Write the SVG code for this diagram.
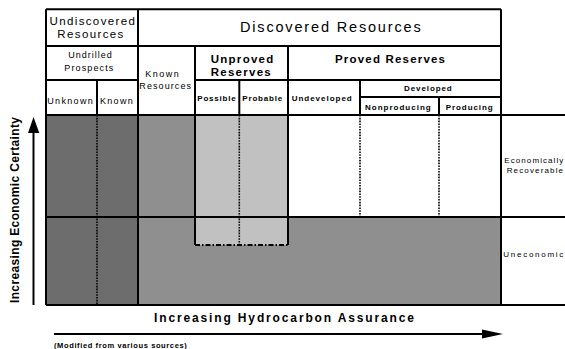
<svg xmlns="http://www.w3.org/2000/svg" width="565" height="349" viewBox="0 0 565 349">
<style>
.ln{stroke:#000;stroke-width:2;fill:none}
.dot{stroke:#000;stroke-width:1.6;fill:none;stroke-dasharray:1.6 1.2}
.dd{stroke:#000;stroke-width:1.8;fill:none;stroke-dasharray:5 2 1.5 2}
text{font-family:"Liberation Sans",Arial,sans-serif;fill:#000}
.t{font-size:9px}
.b{font-weight:bold}
.dark{fill:#6d6d6d}
.mid{fill:#8f8f8f}
.light{fill:#c1c1c1}
</style>
<rect x="0" y="0" width="565" height="349" fill="#fff"/>
<g id="fills">
<rect class="dark" x="46" y="115" width="92" height="190"/>
<rect class="mid" x="138" y="115" width="57" height="190"/>
<rect class="mid" x="195" y="217" width="306" height="88"/>
<rect class="light" x="195" y="115" width="93" height="130"/>
</g>
<g id="undiscovered">
<text x="92.2" y="25" font-size="11.5" text-anchor="middle" textLength="85.5" lengthAdjust="spacing">Undiscovered</text>
<text x="90.3" y="38.3" font-size="11.5" text-anchor="middle" textLength="66" lengthAdjust="spacing">Resources</text>
</g>
<g id="discovered">
<text x="330.3" y="31.7" font-size="14.5" text-anchor="middle" textLength="180.7" lengthAdjust="spacing">Discovered Resources</text>
</g>
<g id="undrilled">
<text class="t" x="90" y="58.3" text-anchor="middle" textLength="43.4" lengthAdjust="spacing">Undrilled</text>
<text class="t" x="88.8" y="70.7" text-anchor="middle" textLength="49" lengthAdjust="spacing">Prospects</text>
</g>
<g id="unknown"><text class="t" x="47.3" y="104" textLength="45.4" lengthAdjust="spacing">Unknown</text></g>
<g id="known"><text class="t" x="100" y="104" textLength="32.7" lengthAdjust="spacing">Known</text></g>
<g id="known-resources">
<text class="t" x="145.3" y="77.3" textLength="33.4" lengthAdjust="spacing">Known</text>
<text class="t" x="139.3" y="89" textLength="51.7" lengthAdjust="spacing">Resources</text>
</g>
<g id="unproved">
<text class="b" x="210.7" y="62.7" font-size="11.5" textLength="62.6" lengthAdjust="spacing">Unproved</text>
<text class="b" x="210.7" y="76" font-size="11.5" textLength="60" lengthAdjust="spacing">Reserves</text>
</g>
<g id="proved"><text class="b" x="335" y="63.3" font-size="11.5" textLength="110" lengthAdjust="spacing">Proved Reserves</text></g>
<g id="possible"><text class="b" x="197.3" y="101" font-size="8" textLength="38.4" lengthAdjust="spacing">Possible</text></g>
<g id="probable"><text class="b" x="242.3" y="101" font-size="8" textLength="40" lengthAdjust="spacing">Probable</text></g>
<g id="undeveloped"><text class="b" x="291.7" y="100.5" font-size="8" textLength="60" lengthAdjust="spacing">Undeveloped</text></g>
<g id="developed"><text class="b" x="404" y="90.7" font-size="8" textLength="47.7" lengthAdjust="spacing">Developed</text></g>
<g id="nonproducing"><text class="b" x="365" y="110" font-size="8" textLength="65.7" lengthAdjust="spacing">Nonproducing</text></g>
<g id="producing"><text class="b" x="445.7" y="110" font-size="8" textLength="47" lengthAdjust="spacing">Producing</text></g>
<g id="econ-recoverable">
<text x="504.3" y="163.3" font-size="8" textLength="59" lengthAdjust="spacing">Economically</text>
<text x="506.7" y="173.3" font-size="8" textLength="56.3" lengthAdjust="spacing">Recoverable</text>
</g>
<g id="uneconomic"><text x="503.3" y="256.7" font-size="8" textLength="60" lengthAdjust="spacing">Uneconomic</text></g>
<g id="connectors">
<path class="ln" d="M46 9.3H501M46 46H501M46 80H138M195 80H501M360 97H501M46 115H565M46 217H565M46 305H565"/>
<path class="ln" d="M46 9.3V305M138 9.3V305M501 9.3V305M195 46V245M288 46V245M97 80V115M239.3 80V115M360 80V115M439 97V115"/>
<path class="dot" d="M97 115V305M239.3 115V245M360 115V217M439 115V217"/>
<path class="dd" d="M195 245H288"/>
<path class="ln" d="M33.5 305V131"/>
<polygon points="28,133 39.3,133 33.5,117"/>
<path class="ln" d="M54 334H484"/>
<polygon points="482,329.5 482,338.5 503,334"/>
</g>
<g id="axis-labels">
<text class="b" x="154" y="321.7" font-size="12" textLength="260" lengthAdjust="spacing">Increasing Hydrocarbon Assurance</text>
<text class="b" x="54" y="347.5" font-size="7.5" textLength="132.7" lengthAdjust="spacing">(Modified from various sources)</text>
<text class="b" transform="translate(18.5,303) rotate(-90)" x="0" y="0" font-size="12" textLength="186" lengthAdjust="spacing">Increasing Economic Certainty</text>
</g>
</svg>
